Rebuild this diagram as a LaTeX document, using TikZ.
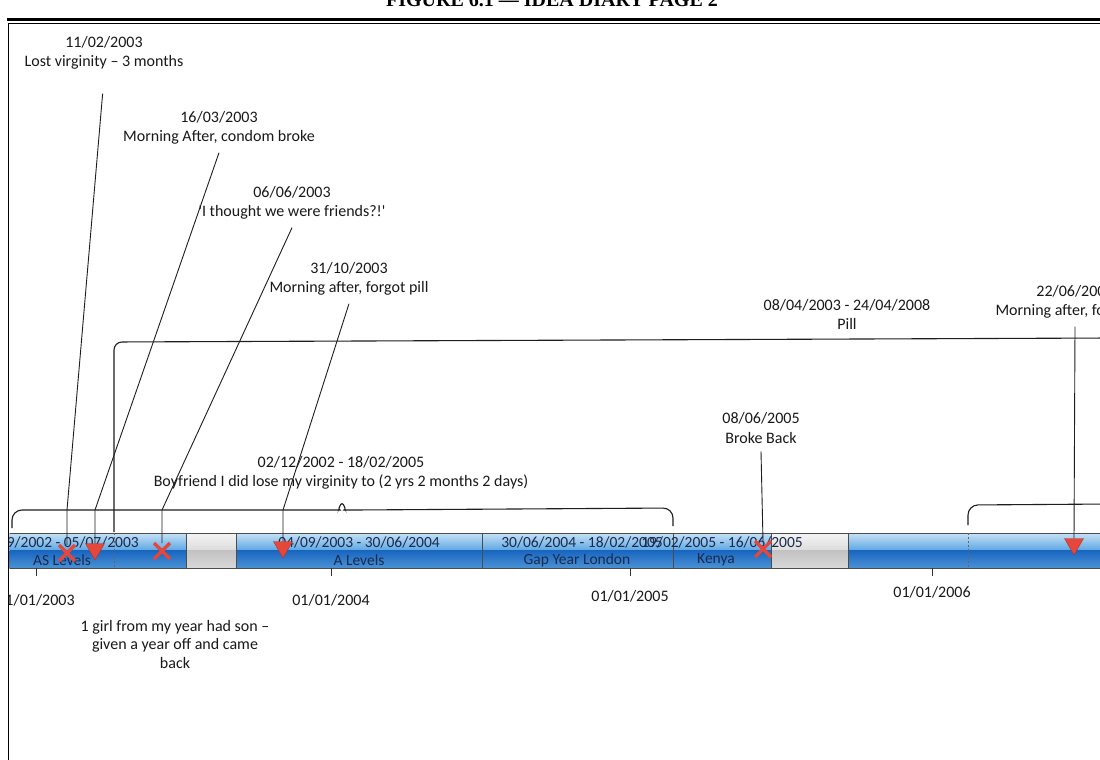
\documentclass[tikz,border=0pt]{standalone}
\usepackage{fontspec}
\setmainfont{Carlito}
\newfontfamily\plainfont{Carlito}[Ligatures=TeXOff]
\newfontfamily\headfont{Liberation Serif}[Ligatures=TeXOff]
\usetikzlibrary{calc,shapes.geometric,shapes.misc}

\definecolor{barhi}{HTML}{C6E1F5}
\definecolor{barmid}{HTML}{5CA6E3}
\definecolor{barlo}{HTML}{1966C0}
\definecolor{barbot}{HTML}{4A92D5}
\definecolor{gryhi}{HTML}{F4F4F4}
\definecolor{grymid}{HTML}{DCDCDC}
\definecolor{grylo}{HTML}{C2C2C2}
\definecolor{grybot}{HTML}{D8D8D8}
\definecolor{mkred}{HTML}{E5473B}
\definecolor{mkedge}{HTML}{B8302A}
\definecolor{navy}{HTML}{1A2A4C}
\definecolor{inkline}{HTML}{1E1E1E}

\tikzset{
  callout/.style={font=\fontsize{16}{19.5}\selectfont, align=center, inner sep=0pt, outer sep=8pt, text=black!90},
  axislabel/.style={font=\fontsize{16}{19.5}\selectfont, inner sep=0pt, text=black!90},
  bartext/.style={font=\fontsize{15.5}{17}\selectfont, inner sep=0pt, text=navy},
  leader/.style={draw=inkline, line width=0.9pt},
  bracket/.style={draw=inkline, line width=1.1pt, rounded corners=10pt},
  segline/.style={draw=black!70, line width=0.8pt},
  xmk/.style={cross out, draw=mkred, line width=3.2pt, minimum size=14pt, inner sep=0pt, outer sep=1pt},
  trimk/.style={regular polygon, regular polygon sides=3, shape border rotate=180,
    fill=mkred, draw=mkedge, line width=0.4pt, minimum size=22pt, inner sep=0pt},
  tick/.style={draw=black!80, line width=1pt}
}

\begin{document}
\begin{tikzpicture}[x=1pt,y=-1pt]
\useasboundingbox (0,0) rectangle (1100,760);
\fill[white] (0,0) rectangle (1100,760);

% page heading, cut by the top edge
\node[anchor=base, font=\headfont\bfseries\fontsize{20}{20}\selectfont] (head) at (552,7) {FIGURE 6.1 — IDEA DIARY PAGE 2};

% page frame
\draw[line width=2.4pt] (7,19.5) -- (1100,19.5);
\draw[line width=1.8pt] (8.5,760) -- (8.5,23.5) -- (1100,23.5);

\begin{scope}
\clip (9.5,24.5) rectangle (1100,760);

% ---------- timeline bar ----------
\foreach \a/\b in {-70/186, 236/482, 482/673, 673/771, 848/1110} {
  \shade[top color=barhi, bottom color=barmid] (\a,533) rectangle (\b,550.5);
  \shade[top color=barlo, bottom color=barbot] (\a,550.5) rectangle (\b,568);
}
\foreach \a/\b in {186/236, 771/848} {
  \shade[top color=gryhi, bottom color=grymid] (\a,533) rectangle (\b,550.5);
  \shade[top color=grylo, bottom color=grybot] (\a,550.5) rectangle (\b,568);
}
\draw[segline] (-70,533) rectangle (1110,568);
\foreach \x in {186,236,482,673,771,848}
  \draw[segline] (\x,533) -- (\x,568);
\foreach \x in {114,968}
  \draw[draw=black!60, line width=0.7pt, dash pattern=on 2pt off 2pt] (\x,533) -- (\x,568);

% segment captions
\node[bartext] (as1)  at (58,542.5)  {04/09/2002 - 05/07/2003};
\node[bartext] (as2)  at (62,560)    {AS Levels};
\node[bartext] (al1)  at (359,542.5) {04/09/2003 - 30/06/2004};
\node[bartext] (al2)  at (359,560)   {A Levels};
\node[bartext] (gy1)  at (582,542.5) {30/06/2004 - 18/02/2005};
\node[bartext] (gy2)  at (577,560)   {Gap Year London};
\node[bartext] (ke1)  at (722,542.5) {19/02/2005 - 16/06/2005};
\node[bartext] (ke2)  at (716,560)   {Kenya};

% ---------- axis ----------
\foreach \x/\y/\t in {36/600/2003, 331/600/2004, 630/596/2005, 932/592/2006} {
  \draw[tick] (\x,568) -- (\x,576);
  \node[axislabel] (yr\t) at (\x,\y) {01/01/\t};
}

% ---------- event markers ----------
\node[xmk]   (m1) at (67,553)   {};
\node[trimk] (m2) at (95,549)   {};
\node[xmk]   (m3) at (162,551)  {};
\node[trimk] (m4) at (283,547)  {};
\node[xmk]   (m5) at (763,549)  {};
\node[trimk] (m6) at (1074,544) {};

% ---------- spans above the bar ----------
\coordinate (bf0) at (12,528);
\coordinate (bf1) at (673,526);
\draw[bracket] (bf0) -- (12,510) -- (330,510)
  .. controls (338,510) and (340,505) .. (342,498)
  .. controls (344,505) and (346,510) .. (354,510)
  -- (673,508) -- (bf1);
\node[callout, outer sep=0pt] (bf) at (341,473) {02/12/2002 - 18/02/2005\\Boyfriend I did lose my virginity to (2 yrs 2 months 2 days)};

\coordinate (nx0) at (968,525);
\draw[bracket] (nx0) -- (968,505) -- (1110,504);

\coordinate (pl0) at (114,532);
\draw[bracket, rounded corners=8pt] (pl0) -- (114,342) -- (1110,338);
\node[callout, outer sep=0pt] (pill) at (847,314.5) {08/04/2003 - 24/04/2008\\Pill};

% ---------- callouts ----------
\coordinate (bend) at (0,510);
\node[callout] (c1) at (104,53)   {11/02/2003\\Lost virginity – 3 months};
\node[callout] (c2) at (219,128)  {16/03/2003\\Morning After, condom broke};
\node[callout] (c3) at (292,203)  {06/06/2003\\{\plainfont 'I thought we were friends?!'}};
\node[callout] (c4) at (349,279)  {31/10/2003\\Morning after, forgot pill};
\node[callout] (c5) at (761,428)  {08/06/2005\\Broke Back};
\node[callout] (c6) at (1075,302) {22/06/2006\\Morning after, forgot pill};

\draw[leader, shorten <=16pt] (c1.south) -- (m1.north |- bend) -- (m1.north);
\draw[leader] (c2.south) -- (m2.north |- bend) -- (m2.north);
\draw[leader] (c3.south) -- (m3.north |- bend) -- (m3.north);
\draw[leader] (c4.south) -- (m4.north |- bend) -- (m4.north);
\draw[leader] (c5.south) -- (m5.north);
\draw[leader] (c6.south) -- (m6.north);

% ---------- note below the axis ----------
\node[callout, outer sep=0pt, font=\fontsize{16}{18.5}\selectfont] (note) at (175,644)
  {1 girl from my year had son –\\given a year off and came\\back};
\end{scope}
\end{tikzpicture}
\end{document}
